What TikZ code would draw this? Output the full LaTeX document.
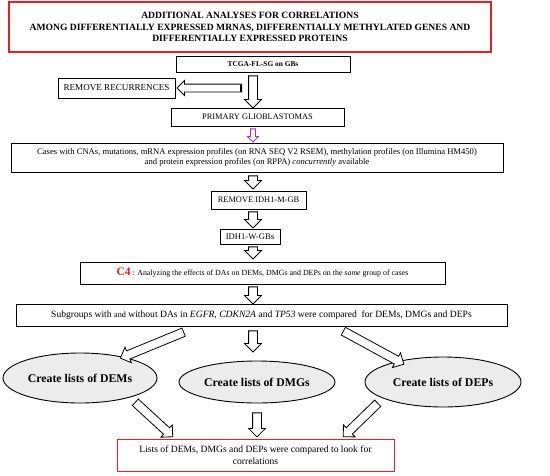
\documentclass[tikz,border=0pt]{standalone}
\usepackage{fontspec}
\setmainfont{Liberation Serif}
\usetikzlibrary{shapes.geometric,shapes.arrows,calc}
\definecolor{frred}{RGB}{235,30,35}
\definecolor{arpurple}{RGB}{150,50,200}
\definecolor{colpurple}{RGB}{120,50,160}
\definecolor{ellgray}{RGB}{236,236,236}
\tikzset{
  box/.style={draw=black, line width=0.9pt, rectangle, inner sep=1pt, align=center, font=\fontsize{8}{9.5}\selectfont},
  redbox/.style={box, draw=frred, line width=1.2pt},
  oval/.style={draw=black, line width=0.9pt, ellipse, fill=ellgray, inner sep=0pt, font=\fontsize{11.8}{13}\selectfont\bfseries},
  blockarr/.style={single arrow, draw=black, fill=white, line width=0.8pt, inner xsep=0pt, inner ysep=4pt,
     single arrow head extend=4pt, single arrow tip angle=90, single arrow head indent=0pt},
  smallarr/.style={blockarr, draw=arpurple, inner ysep=2pt, single arrow head extend=3pt},
}
\newcommand\blockarrow[3][]{%
  \path let \p1=#2, \p2=#3, \n1={atan2(\y2-\y1,\x2-\x1)}, \n2={veclen(\x2-\x1,\y2-\y1)} in
    node[blockarr, #1, minimum height=\n2, rotate=\n1, anchor=tail] at (\p1) {};}
\begin{document}
\begin{tikzpicture}[x=1pt, y=-1pt]
\useasboundingbox (0,0) rectangle (550,475);
\fill[white] (0,0) rectangle (550,475);
\coordinate (ax) at (253,0);

\node[redbox, minimum width=482, minimum height=50, font=\fontsize{9.6}{11.5}\selectfont\bfseries] (title) at (250,27)
 {ADDITIONAL ANALYSES FOR CORRELATIONS\\AMONG DIFFERENTIALLY EXPRESSED MRNAS, DIFFERENTIALLY METHYLATED GENES AND\\DIFFERENTIALLY EXPRESSED PROTEINS};
\node[box, minimum width=174, minimum height=16, font=\fontsize{7.4}{8}\selectfont\bfseries] (tcga) at (263,64) {TCGA-FL-SG on GBs};
\node[box, minimum width=117, minimum height=20, font=\fontsize{9.1}{10}\selectfont] (remrec) at (116.5,88) {REMOVE RECURRENCES};
\node[box, minimum width=173, minimum height=18, font=\fontsize{8.4}{9}\selectfont] (prim) at (257.5,117) {PRIMARY GLIOBLASTOMAS};
\node[box, minimum width=492, minimum height=29, font=\fontsize{8.6}{9.4}\selectfont] (cases) at (257,157.5)
 {Cases with CNAs, mutations, mRNA expression profiles (on RNA SEQ V2 RSEM), methylation profiles (on Illumina HM450)\\and protein expression profiles (on RPPA) \textit{concurrently} available};
\node[box, minimum width=95, minimum height=18, font=\fontsize{8.4}{9}\selectfont] (remidh) at (258.5,200) {REMOVE IDH1-M-GB};
\node[box, minimum width=60, minimum height=15, font=\fontsize{8.6}{9}\selectfont] (idhw) at (250,236.5) {IDH1-W-GBs};
\node[box, minimum width=365, minimum height=22, font=\fontsize{7.9}{9}\selectfont] (c4) at (262.5,273)
 {{\fontsize{11.5}{12}\selectfont\bfseries\textcolor{frred}{C4}}\,\textcolor{colpurple}{\textbf{:}} Analyzing the effects of DAs on DEMs, DMGs and DEPs on the \textit{same} group of cases};
\node[box, minimum width=491, minimum height=22, font=\fontsize{9.6}{10}\selectfont] (sub) at (261.5,315)
 {Subgroups with {\fontsize{8.2}{9}\selectfont and} without DAs in \textit{EGFR}, \textit{CDKN2A} and \textit{TP53} were compared\ \ for DEMs, DMGs and DEPs};
\node[oval, minimum width=154, minimum height=50] (e1) at (80,378) {Create lists of DEMs};
\node[oval, minimum width=156, minimum height=42] (e2) at (257,382) {Create lists of DMGs};
\node[oval, minimum width=156, minimum height=50] (e3) at (443,382) {Create lists of DEPs};
\node[redbox, line width=1pt, minimum width=277, minimum height=32, font=\fontsize{9.6}{12}\selectfont] (final) at (255.5,455)
 {Lists of DEMs, DMGs and DEPs were compared to look for\\correlations};

% arrows
\coordinate (rrtail) at (242,88);
\blockarrow{($(ax |- tcga.south)+(0,3)$)}{(ax |- prim.north)}
\blockarrow[inner ysep=3.5pt, single arrow head extend=3.5pt]{(rrtail)}{($(remrec.east)+(2,0)$)}
\draw[line width=2pt] ($(rrtail)+(-1,-3.5)$) -- ($(rrtail)+(-1,3.5)$);
\blockarrow[smallarr]{($(ax |- prim.south)+(0,2)$)}{($(ax |- cases.north)+(0,-1)$)}
\blockarrow{($(ax |- cases.south)+(0,3)$)}{($(ax |- remidh.north)+(0,-2)$)}
\blockarrow{($(ax |- remidh.south)+(0,2)$)}{($(ax |- idhw.north)+(0,-1)$)}
\blockarrow{($(ax |- idhw.south)+(0,2)$)}{($(ax |- c4.north)+(0,-3)$)}
\blockarrow{($(ax |- c4.south)+(0,2)$)}{(ax |- sub.north)}
\coordinate (s1) at (184,332);
\coordinate (s3) at (343,331);
\blockarrow{(s1)}{($(e1.north east)+(-14,-2)$)}
\blockarrow{($(ax |- sub.south)+(0,4)$)}{($(ax |- e2.north)+(0,-9)$)}
\blockarrow{(s3)}{($(e3.north west)+(16,0)$)}
\coordinate (b1) at (135,402);
\coordinate (b3) at (378,403);
\blockarrow{(b1)}{($(final.north west)+(56,-2)$)}
\blockarrow{($(e2.south)+(0,9)$)}{($(e2.south |- final.north)+(0,-2)$)}
\blockarrow{(b3)}{($(final.north east)+(-51,-2)$)}
\end{tikzpicture}
\end{document}
